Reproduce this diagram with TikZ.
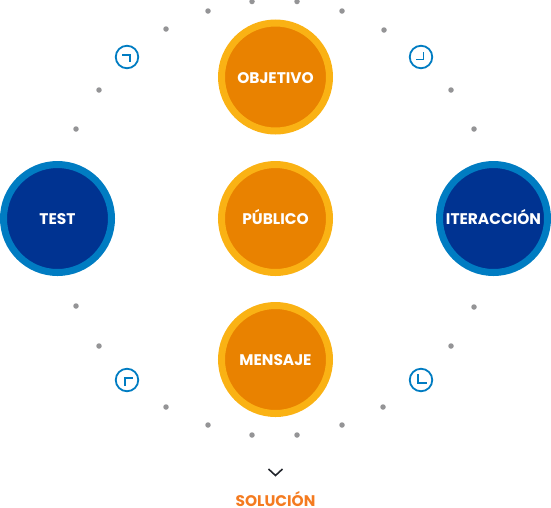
\documentclass[tikz,border=0pt]{standalone}
\usepackage{fontspec}
\setmainfont{Poppins}
\usetikzlibrary{positioning}
\definecolor{softorange}{RGB}{233,130,0}
\definecolor{softyellow}{RGB}{250,178,20}
\definecolor{deepblue}{RGB}{0,51,145}
\definecolor{softblue}{RGB}{0,124,194}
\definecolor{softgray}{RGB}{148,148,150}
\definecolor{softink}{RGB}{35,38,45}
\definecolor{softlabel}{RGB}{244,123,32}
\tikzset{
  stage/.style={circle, line width=7pt, inner sep=0pt, minimum size=108pt, text=white, text height=12.5pt, text depth=0pt, font=\bfseries\fontsize{15.4}{17}\selectfont},
  orangestage/.style={stage, draw=softyellow, fill=softorange},
  bluestage/.style={stage, draw=softblue, fill=deepblue},
  clockface/.style={circle, draw=softblue, line width=1.8pt, inner sep=0pt, minimum size=22.5pt},
  clockhand/.style={draw=softblue, line width=1.6pt},
  tick/.style={circle, fill=softgray, inner sep=0pt, minimum size=5.5pt}
}

\begin{document}
\begin{tikzpicture}[x=1pt, y=-1pt]
      \useasboundingbox (0,0) rectangle (551,507);
      \node[orangestage] (objetivo) at (275.5,77) {OBJETIVO};
      \node[orangestage, below=26.5pt of objetivo] (publico) {PÚBLICO};
      \node[orangestage, below=26pt of publico] (mensaje) {MENSAJE};
      \node[bluestage] (test) at (57.5,218.5) {TEST};
      \node[bluestage] (iteracion) at (493.5,218.5) {ITERACCIÓN};
      % dots of the ring
      \foreach \x/\y [count=\i] in {76/129,99/90,166/29,208/11,252/1.5,297/1.5,342/11,384/30,451/90,474/129,
        76/306,99/346,166/407,208/425,252/435,297/435,342/425,383/407,451/346,474/307}
        \node[tick] (dot\i) at (\x,\y) {};
      % clocks
      \node[clockface] (clockA) at (127,57) {};
      \node[clockface] (clockB) at (421,57) {};
      \node[clockface] (clockC) at (127,380) {};
      \node[clockface] (clockD) at (421,380) {};
      \draw[clockhand] ([shift={(-5,-2)}]clockA.center) -- ++(8,0) -- ++(0,7);
      \draw[clockhand] ([shift={(2.5,-5)}]clockB.center) -- ++(0,7.5) -- ++(-8,0);
      \draw[clockhand] ([shift={(-2,5.5)}]clockC.center) -- ++(0,-7.5) -- ++(8,0);
      \draw[clockhand] ([shift={(-3,-6)}]clockD.center) -- ++(0,9) -- ++(9,0);
      % way out
      \coordinate (chevL) at (268.5,469);
      \coordinate (chevM) at (275.5,475.5);
      \coordinate (chevR) at (282.5,469);
      \draw[softink, line width=1.6pt] (chevL) -- (chevM) -- (chevR);
      \node[text=softlabel, inner sep=0pt, text height=12.5pt, text depth=0pt, font=\bfseries\fontsize{15.4}{17}\selectfont] (solucion) at (275.5,500.5) {SOLUCIÓN};
    \end{tikzpicture}
\end{document}
